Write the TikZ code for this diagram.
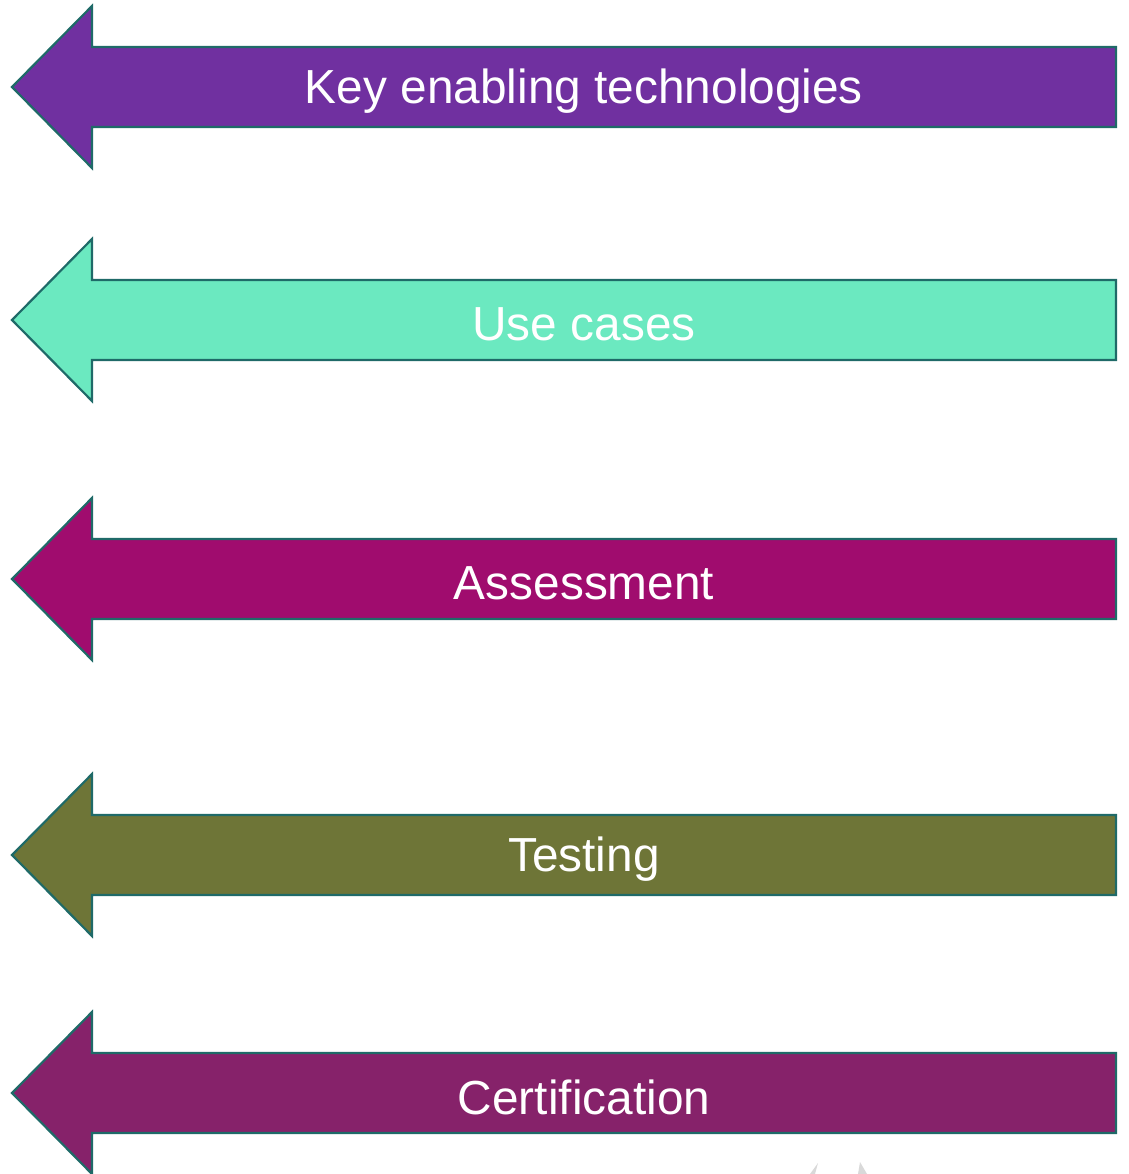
\documentclass[tikz,border=0pt]{standalone}
\usepackage{fontspec}
\setmainfont{Liberation Sans}
\definecolor{edge}{HTML}{1F6A68}
\definecolor{cA}{HTML}{7030A0}
\definecolor{cB}{HTML}{6BE9C0}
\definecolor{cC}{HTML}{A00C6E}
\definecolor{cD}{HTML}{6E7537}
\definecolor{cE}{HTML}{86226A}
\tikzset{
  bigarrow/.style={draw=edge, line width=2.2pt, line join=miter},
  arrowlabel/.style={text=white, font=\fontsize{47.8}{52}\selectfont, inner sep=0pt},
}
\newcommand{\leftarrowshape}[4]{% y center, color, name, label
  \fill[#2] (12,-#1) -- (92,-#1+81) -- (92,-#1+40) -- (1116,-#1+40) -- (1116,-#1-40) -- (92,-#1-40) -- (92,-#1-81) -- cycle;
  \draw[bigarrow] (12,-#1) -- (92,-#1+81) -- (92,-#1+40) -- (1116,-#1+40) -- (1116,-#1-40) -- (92,-#1-40) -- (92,-#1-81) -- cycle;
  \node[arrowlabel] (#3) at (584,-#1-4) {#4};
}
\begin{document}
\begin{tikzpicture}[x=1pt,y=1pt]
\useasboundingbox (0,0) rectangle (1128,-1174);
\leftarrowshape{87}{cA}{ket}{Key enabling technologies}
\leftarrowshape{320}{cB}{uc}{Use cases}
\leftarrowshape{579}{cC}{as}{Assessment}
\leftarrowshape{855}{cD}{te}{Testing}
\leftarrowshape{1093}{cE}{ce}{Certification}
\fill[gray!30] (810,-1174) -- (818,-1163) -- (815,-1174) -- cycle;
\fill[gray!30] (858,-1174) -- (860,-1162) -- (867,-1174) -- cycle;
\end{tikzpicture}
\end{document}
